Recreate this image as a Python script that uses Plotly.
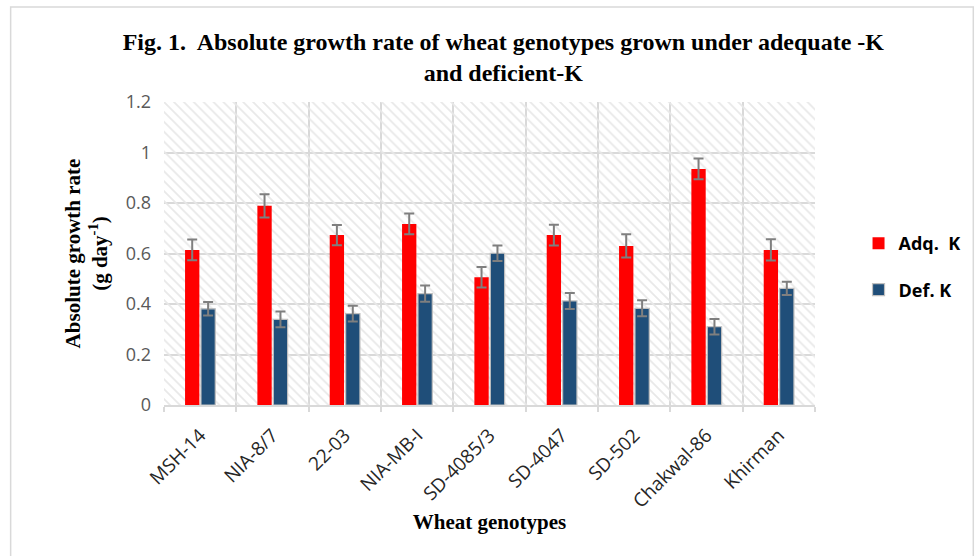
import plotly.graph_objects as go

# Wheat genotypes and absolute growth rate (g day^-1)
genotypes = ["MSH-14", "NIA-8/7", "22-03", "NIA-MB-I", "SD-4085/3",
             "SD-4047", "SD-502", "Chakwal-86", "Khirman"]
adq_k = [0.614, 0.789, 0.673, 0.717, 0.506, 0.673, 0.630, 0.935, 0.614]
adq_err = [0.041, 0.046, 0.040, 0.041, 0.041, 0.041, 0.046, 0.041, 0.042]
def_k = [0.381, 0.339, 0.362, 0.441, 0.601, 0.412, 0.383, 0.310, 0.462]
def_err = [0.027, 0.031, 0.031, 0.032, 0.031, 0.032, 0.032, 0.031, 0.026]
y_ticks = [0, 0.2, 0.4, 0.6, 0.8, 1.0, 1.2]
y_tick_text = ["0", "0.2", "0.4", "0.6", "0.8", "1", "1.2"]

W, H = 977, 556
ML, MR, MT, MB = 164, 155, 102, 151
pw, ph = W - ML - MR, H - MT - MB


def px_x(p):
    return (p - ML) / pw


def px_y(p):
    return (H - MB - p) / ph


GRID = "#D9D9D9"
SERIF = "Liberation Serif"
SANS = "Open Sans"

fig = go.Figure()

# hatched plot-area fill
fig.add_trace(go.Bar(
    x=[genotypes[0]], y=[y_ticks[-1]], base=0,
    offset=-0.5, width=len(genotypes),
    marker=dict(color="rgba(0,0,0,0)", line=dict(width=0),
                pattern=dict(shape="\\", fgcolor="#E8E8E8",
                             bgcolor="rgba(0,0,0,0)", size=7,
                             solidity=0.25, fillmode="replace")),
    showlegend=False, hoverinfo="skip",
))

fig.add_trace(go.Bar(
    name="Adq.  K", x=genotypes, y=adq_k,
    marker=dict(color="#FF0000", line=dict(width=0)),
    error_y=dict(type="data", array=adq_err, color="#7F7F7F",
                 thickness=2, width=5),
    legendgroup="a",
))
fig.add_trace(go.Bar(
    name="Def. K", x=genotypes, y=def_k,
    marker=dict(color="#1F4E79", line=dict(color="#BFBFBF", width=1.2)),
    error_y=dict(type="data", array=def_err, color="#7F7F7F",
                 thickness=2, width=5),
    legendgroup="b",
))

fig.update_layout(
    width=W, height=H,
    margin=dict(l=ML, r=MR, t=MT, b=MB),
    paper_bgcolor="white", plot_bgcolor="white",
    barmode="group", bargap=0.56, bargroupgap=0.1,
    title=dict(
        text="Fig. 1.  Absolute growth rate of wheat genotypes grown under adequate -K<br>and deficient-K",
        font=dict(family=SERIF, size=24, color="black", weight="bold"),
        x=px_x(507), xanchor="center", xref="paper",
        y=1 - 50 / H, yanchor="top",
    ),
    legend=dict(
        x=px_x(866), y=px_y(225), xanchor="left", yanchor="top",
        font=dict(family=SANS, size=18, color="black", weight="bold"),
        tracegroupgap=20, bgcolor="rgba(0,0,0,0)",
    ),
    xaxis=dict(
        type="category", tickson="boundaries",
        showgrid=True, gridcolor=GRID, gridwidth=1.5,
        showline=True, linecolor=GRID, linewidth=1.5,
        ticks="outside", ticklen=5, tickcolor=GRID, tickwidth=1.5,
        tickangle=-45, ticklabelstandoff=10,
        tickfont=dict(family=SANS, size=19, color="#262626"),
        title=dict(text="Wheat genotypes",
                   font=dict(family=SERIF, size=21, color="black", weight="bold"),
                   standoff=2),
        range=[-0.5, len(genotypes) - 0.5],
    ),
    yaxis=dict(
        range=[0, 1.2], tickvals=y_ticks, ticktext=y_tick_text,
        showgrid=True, gridcolor=GRID, gridwidth=1.5,
        zeroline=False, showline=False, ticks="",
        ticklabelstandoff=12,
        tickfont=dict(family=SANS, size=18, color="#595959"),
        title=dict(text="Absolute growth rate<br>(g day<sup>-1</sup>)",
                   font=dict(family=SERIF, size=21, color="black", weight="bold"),
                   standoff=12),
    ),
    shapes=[dict(
        type="rect", xref="paper", yref="paper",
        x0=px_x(9), x1=px_x(W + 5), y0=px_y(H + 5), y1=px_y(7),
        line=dict(color=GRID, width=1.5), fillcolor="rgba(0,0,0,0)",
        layer="below",
    )],
)

fig.write_html("out.html")
